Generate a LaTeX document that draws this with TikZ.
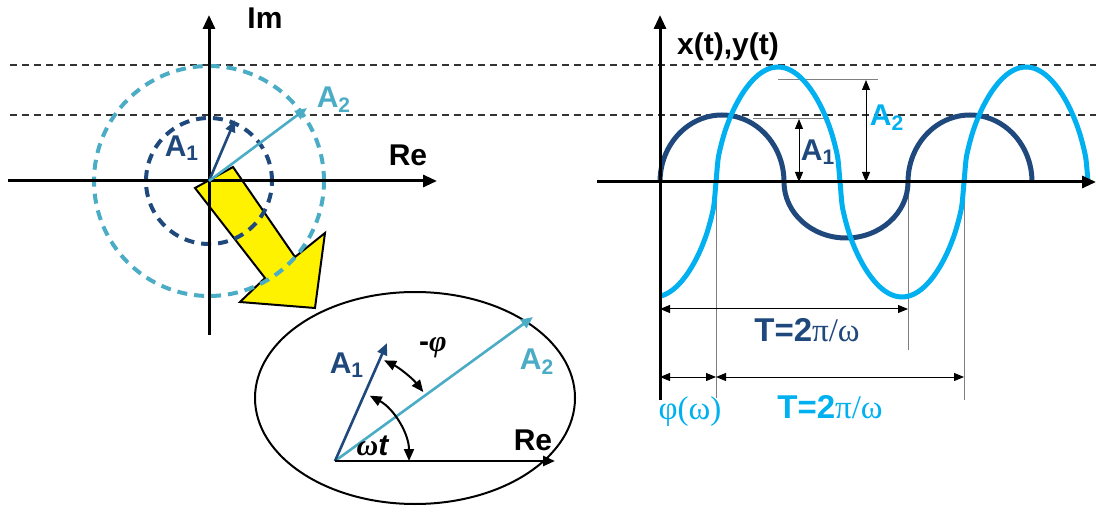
\documentclass[tikz,border=0pt]{standalone}
\usepackage{fontspec}
\setmainfont{Liberation Sans}
\newfontfamily\grk{Liberation Serif}
\usetikzlibrary{arrows.meta}
\definecolor{phdark}{HTML}{1F497D}
\definecolor{phlight}{HTML}{4BACC6}
\definecolor{sigcyan}{HTML}{00B0F0}
\definecolor{refgray}{HTML}{7F7F7F}

\begin{document}
\begin{tikzpicture}[x=1pt,y=1pt,scale=0.5,
  lab/.style={font=\fontsize{15}{17}\selectfont\bfseries,inner sep=1pt},
  big/.style={font=\fontsize{16.5}{18}\selectfont,inner sep=1pt},
  axis/.style={line width=1.5pt,-{Triangle[length=7pt,width=6pt]}},
  vec/.style={line width=1.3pt,-{Triangle[length=6pt,width=5pt]}},
  dim/.style={line width=0.5pt,{Triangle[length=5pt,width=4pt]}-{Triangle[length=5pt,width=4pt]}},
  turn/.style={line width=1pt,{Triangle[length=6pt,width=5pt]}-{Triangle[length=6pt,width=5pt]}},
  ref/.style={line width=0.5pt,draw=refgray},
  level/.style={line width=0.6pt,draw=black!80,dash pattern=on 3.5pt off 2.5pt},
  orbit/.style={line width=2pt,dash pattern=on 5pt off 3.5pt},
  wave/.style={line width=2.5pt}]
\useasboundingbox (0,0) rectangle (1096,514);
% amplitude levels across both halves
\draw[level] (10,449) -- (1096,449);
\draw[level] (10,399) -- (1096,399);
% zoom arrow (under the circles and axes)
\draw[line width=1pt,fill=yellow] (233,347) -- (295,257) -- (325,281) -- (315,206)
  -- (240,212) -- (265,236) -- (195,326) -- cycle;
% phasor plane
\coordinate (O) at (209,333);
\draw[orbit,phlight] (O) circle[radius=115];
\draw[orbit,phdark] (O) circle[radius=63];
\coordinate (imlo) at (209,179);
\coordinate (imhi) at (209,499);
\coordinate (relo) at (8,333);
\coordinate (rehi) at (437,333);
\draw[axis] (imlo) -- (imhi);
\draw[axis] (relo) -- (rehi);
\node[lab] (im) at (265,496) {Im};
\node[lab] (re) at (408,359) {Re};
\coordinate (a1tip) at (235,394);
\coordinate (a2tip) at (307,406);
\draw[vec,phdark] (O) -- (a1tip);
\draw[vec,phlight] (O) -- (a2tip);
\node[lab,text=phdark] (a1) at (182,366) {A\textsubscript{1}};
\node[lab,text=phlight] (a2) at (334,414) {A\textsubscript{2}};
% close-up of the two phasors
\draw[line width=1pt,fill=white] (415,116) ellipse[x radius=160,y radius=106];
\coordinate (P) at (335,53);
\coordinate (pre) at (555,53);
\coordinate (pa1) at (387,171);
\coordinate (pa2) at (533,197);
\draw[vec,phlight] (P) -- (pa2);
\draw[vec,phdark] (P) -- (pa1);
\draw[vec] (P) -- (pre);
\draw[turn] ([shift={(0:74)}]P) arc[start angle=0,end angle=62,radius=74];
\draw[turn] ([shift={(38:112)}]P) arc[start angle=38,end angle=64,radius=112];
\node[lab] (rez) at (533,74) {Re};
\node[lab,text=phdark] (a1z) at (347,149) {A\textsubscript{1}};
\node[lab,text=phlight] (a2z) at (537,152) {A\textsubscript{2}};
\node[lab] (phi) at (433,166) {-{\grk\itshape φ}};
\node[lab] (wt) at (373,68) {{\grk\itshape ω}\textit{t}};
% time signals
\coordinate (Q) at (660,332);
\draw[ref] (716,332) -- (716,116);
\draw[ref] (908,332) -- (908,164);
\draw[ref] (964,332) -- (964,114);
\draw[ref] (753,395) -- (827,395);
\draw[ref] (778,434) -- (878,434);
\draw[wave,phdark] (Q) arc[start angle=180,end angle=0,x radius=62,y radius=67]
  arc[start angle=180,end angle=360,x radius=62,y radius=56]
  arc[start angle=180,end angle=0,x radius=62,y radius=67];
\draw[wave,sigcyan] plot[domain=660:1088,samples=215,smooth]
  (\x,{332+115*sin(1.4516*(\x-716))/(abs(sin(1.4516*(\x-716)))+0.0001)^0.45});
\coordinate (tlo) at (660,114);
\coordinate (thi) at (660,499);
\coordinate (xlo) at (597,332);
\coordinate (xhi) at (1096,332);
\draw[axis] (tlo) -- (thi);
\draw[axis] (xlo) -- (xhi);
\node[lab] (xy) at (728,467) {x(t),y(t)};
% amplitudes
\draw[dim] (799,395) -- (799,332);
\draw[dim] (866,434) -- (866,332);
\node[lab,text=phdark] (a1t) at (818,362) {A\textsubscript{1}};
\node[lab,text=sigcyan] (a2t) at (887,396) {A\textsubscript{2}};
% periods and phase
\draw[dim] (660,205) -- (908,205);
\draw[dim] (660,137) -- (716,137);
\draw[dim] (716,137) -- (964,137);
\node[big,text=phdark] (tdark) at (807,184) {\bfseries T=2{\grk\mdseries π/ω}};
\node[big,text=sigcyan] (tcyan) at (830,107) {\bfseries T=2{\grk\mdseries π/ω}};
\node[big,text=sigcyan] (phw) at (690,102) {\grk φ(ω)};
\end{tikzpicture}
\end{document}
